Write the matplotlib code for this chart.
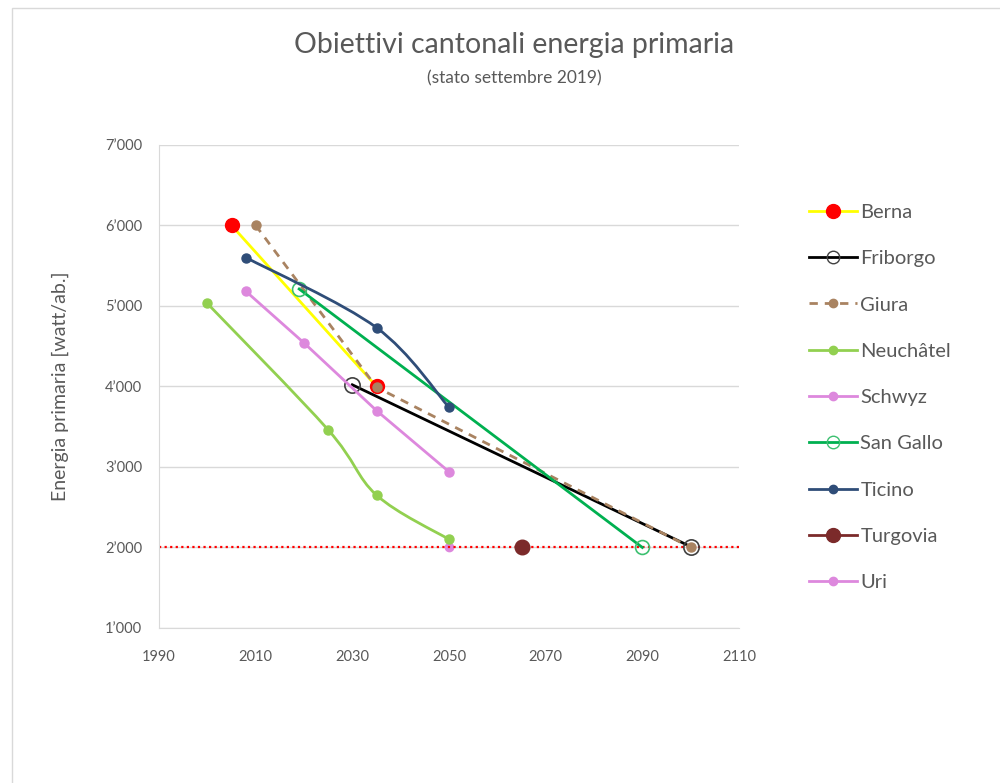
import numpy as np
import matplotlib
matplotlib.use("Agg")
import matplotlib.pyplot as plt
from matplotlib.path import Path
from matplotlib.patches import PathPatch, Rectangle
from matplotlib.lines import Line2D
from matplotlib.ticker import FuncFormatter, MultipleLocator

plt.rcParams['font.family'] = ['Lato', 'DejaVu Sans']

# values
berna_x = [2005, 2035]
berna_y = [6000, 4000]
friborgo_x = [2030, 2100]
friborgo_y = [4020, 2010]
giura_x = [2010, 2035, 2100]
giura_y = [6000, 3990, 2000]
neuch_x = [2000, 2025, 2035, 2050]
neuch_y = [5030, 3460, 2650, 2100]
schwyz_x = [2008, 2020, 2035, 2050]
schwyz_y = [5180, 4540, 3700, 2940]
sangallo_x = [2019, 2090]
sangallo_y = [5210, 2000]
ticino_x = [2008, 2035, 2050]
ticino_y = [5600, 4730, 3740]
turgovia_x = [2065]
turgovia_y = [2000]
uri_x = [2050]
uri_y = [2000]
target_x = [1990, 2110]
target_y = [2000, 2000]
x_ticks = [1990, 2010, 2030, 2050, 2070, 2090, 2110]

grey_txt = "#595959"
grid_col = "#d9d9d9"


def smooth_path(xs, ys):
    # Excel-like smoothed line: cubic bezier segments (Catmull-Rom control points)
    pts = np.column_stack([xs, ys]).astype(float)
    n = len(pts)
    verts = [pts[0]]
    codes = [Path.MOVETO]
    for i in range(n - 1):
        p0 = pts[i - 1] if i > 0 else pts[i]
        p1 = pts[i]
        p2 = pts[i + 1]
        p3 = pts[i + 2] if i + 2 < n else pts[i + 1]
        c1 = p1 + (p2 - p0) / 6.0
        c2 = p2 - (p3 - p1) / 6.0
        verts += [c1, c2, p2]
        codes += [Path.CURVE4] * 3
    return Path(verts, codes)


fig = plt.figure(figsize=(10, 7.83), dpi=100)
fig.patches.append(Rectangle((0.012, -0.1), 1.2, 1.09, transform=fig.transFigure,
                             fill=False, edgecolor=grid_col, lw=1.0))
ax = fig.add_axes([0.159, 0.198, 0.580, 0.617])

lw = 2.0
ax.plot(target_x, target_y, color="#ff0000", lw=1.6, ls=(0, (1, 1.5)), zorder=2)

ax.plot(berna_x, berna_y, color="#ffff00", lw=lw, marker="o", ms=10,
        mfc="#ff0000", mec="#ff0000", zorder=3)
ax.plot(friborgo_x, friborgo_y, color="black", lw=lw, marker="o", ms=11,
        mfc="none", mec="#404040", mew=1.2, zorder=3)
ax.plot(giura_x, giura_y, color="#a98361", lw=lw, ls=(0, (3, 2.5)), marker="o", ms=6.5,
        mfc="#a98361", mec="#a98361", zorder=3)

ax.add_patch(PathPatch(smooth_path(neuch_x, neuch_y), fill=False, ec="#92d050", lw=lw, zorder=3))
ax.plot(neuch_x, neuch_y, ls="none", marker="o", ms=6.5, color="#92d050", zorder=3)

ax.plot(schwyz_x, schwyz_y, color="#dd88dd", lw=lw, marker="o", ms=6.5, zorder=3)
ax.plot(sangallo_x, sangallo_y, color="#00b050", lw=lw, marker="o", ms=10,
        mfc="none", mec="#3cc070", mew=1.2, zorder=3)

ax.add_patch(PathPatch(smooth_path(ticino_x, ticino_y), fill=False, ec="#2f4d78", lw=lw, zorder=3))
ax.plot(ticino_x, ticino_y, ls="none", marker="o", ms=6.5, color="#2f4d78", zorder=3)

ax.plot(turgovia_x, turgovia_y, ls="none", marker="o", ms=10.5, color="#7b2a2a", zorder=4)
ax.plot(uri_x, uri_y, ls="none", marker="o", ms=6, color="#dd88dd", zorder=1.5)

ax.set_xlim(1990, 2110)
ax.set_ylim(1000, 7000)
ax.set_xticks(x_ticks)
ax.yaxis.set_major_locator(MultipleLocator(1000))
ax.yaxis.set_major_formatter(FuncFormatter(lambda v, p: f"{int(v):,}".replace(",", "\u2019")))
ax.grid(axis="y", color=grid_col, lw=1)
ax.set_axisbelow(True)
for s in ["top", "right"]:
    ax.spines[s].set_visible(False)
for s in ["left", "bottom"]:
    ax.spines[s].set_color(grid_col)
ax.tick_params(length=0, labelsize=10.5, colors=grey_txt, pad=12)
ax.tick_params(axis="x", pad=16)
ax.set_ylabel("Energia primaria [watt/ab.]", fontsize=14, color=grey_txt, labelpad=26)

fig.text(0.514, 0.942, "Obiettivi cantonali energia primaria", ha="center", va="center",
         fontsize=20.5, color=grey_txt)
fig.text(0.514, 0.9, "(stato settembre 2019)", ha="center", va="center",
         fontsize=12.5, color=grey_txt)

handles = [
    Line2D([], [], color="#ffff00", lw=lw, marker="o", ms=10, mfc="#ff0000", mec="#ff0000"),
    Line2D([], [], color="black", lw=lw, marker="o", ms=9, mfc="none", mec="#404040"),
    Line2D([], [], color="#a98361", lw=lw, ls=(0, (3, 2.5)), marker="o", ms=6, mfc="#a98361", mec="#a98361"),
    Line2D([], [], color="#92d050", lw=lw, marker="o", ms=6),
    Line2D([], [], color="#dd88dd", lw=lw, marker="o", ms=6),
    Line2D([], [], color="#00b050", lw=lw, marker="o", ms=9, mfc="none", mec="#3cc070"),
    Line2D([], [], color="#2f4d78", lw=lw, marker="o", ms=6),
    Line2D([], [], color="#7b2a2a", lw=lw, marker="o", ms=10),
    Line2D([], [], color="#dd88dd", lw=lw, marker="o", ms=6),
]
labels = ["Berna", "Friborgo", "Giura", "Neuchâtel", "Schwyz", "San Gallo",
          "Ticino", "Turgovia", "Uri"]
fig.legend(handles, labels, loc="upper left", bbox_to_anchor=(0.801, 0.75),
           frameon=False, fontsize=14.5, labelcolor=grey_txt, handlelength=2.4,
           handletextpad=0.15, labelspacing=1.45, borderaxespad=0)

fig.savefig("out.png", dpi=100)
